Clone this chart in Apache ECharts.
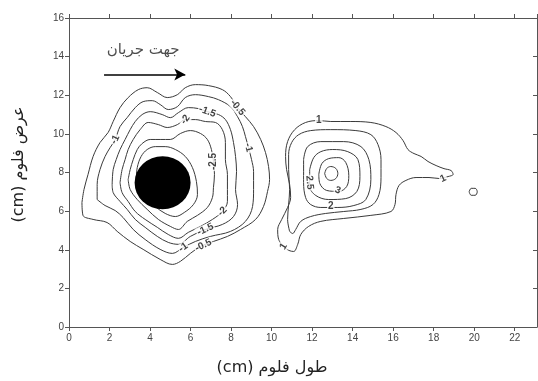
<!DOCTYPE html>
<html>
<head>
<meta charset="utf-8">
<script src="https://cdn.jsdelivr.net/npm/echarts@6/dist/echarts.min.js"></script>
<style>
  html, body { margin: 0; background: #fff; }
  #chart { width: 538px; height: 381px; }
</style>
</head>
<body>
<div id="chart"></div>
<script>
// axis titles (written in visual order so "(cm)" sits on the left like the original)
const xName = '(cm) طول فلوم';
const yName = '(cm) عرض فلوم';
const flowText = 'جهت جریان';

// contour lines, in cm (x = flume length, y = flume width)
// left group: scour around the cylinder (negative levels)
const levelNeg05 = [[0.64,6.45],[0.74,7.12],[0.94,7.90],[1.19,8.83],[1.53,9.55],[1.93,10.07],[2.18,10.64],[2.52,11.36],[2.92,11.88],[3.42,12.29],[3.86,12.39],[4.36,12.14],[4.85,11.88],[5.35,12.03],[5.74,12.39],[6.24,12.55],[6.88,12.50],[7.57,12.29],[7.97,11.93],[8.32,11.36],[8.71,10.89],[9.11,10.38],[9.46,9.71],[9.70,9.03],[9.85,8.31],[9.90,7.64],[9.80,7.02],[9.60,6.24],[9.21,5.57],[8.47,5.05],[7.82,4.69],[7.13,4.43],[6.49,4.17],[5.99,3.81],[5.50,3.40],[5.10,3.24],[4.50,3.50],[3.66,4.02],[3.02,4.43],[2.38,4.95],[1.88,5.41],[1.19,5.57],[0.69,5.78]];
const levelNeg1 = [[1.39,6.60],[1.39,7.38],[1.53,8.15],[1.78,8.83],[2.03,9.29],[2.28,9.71],[2.52,10.38],[2.87,10.84],[3.27,11.36],[3.66,11.67],[4.11,11.72],[4.50,11.52],[4.90,11.26],[5.35,11.41],[5.74,11.88],[6.24,12.03],[6.88,11.93],[7.38,11.77],[7.97,11.41],[8.32,10.89],[8.56,10.38],[8.71,9.86],[8.86,9.29],[9.01,8.67],[9.11,8.05],[9.11,7.12],[9.06,6.24],[8.71,5.47],[7.97,4.95],[6.98,4.69],[6.24,4.43],[5.64,4.12],[5.10,3.81],[4.50,4.02],[3.76,4.53],[3.17,5.05],[2.67,5.67],[2.28,6.03],[1.78,6.29]];
const levelNeg15 = [[2.13,7.38],[2.18,8.15],[2.33,8.67],[2.52,9.19],[2.77,9.71],[3.02,10.22],[3.27,10.64],[3.61,11.00],[4.01,11.15],[4.60,11.00],[5.00,10.84],[5.40,11.10],[5.89,11.36],[6.39,11.31],[6.83,11.15],[7.38,11.00],[7.72,10.74],[7.97,10.22],[8.12,9.55],[8.22,8.83],[8.27,8.05],[8.22,7.12],[8.32,6.34],[8.12,5.72],[7.57,5.31],[6.73,5.05],[5.99,4.69],[5.40,4.28],[4.90,4.38],[4.36,4.69],[3.76,5.16],[3.27,5.57],[2.87,6.09],[2.52,6.50],[2.18,6.96]];
const levelNeg2 = [[2.52,7.48],[2.62,8.15],[2.77,8.67],[2.92,9.19],[3.17,9.71],[3.51,10.22],[3.91,10.59],[4.41,10.48],[4.85,10.33],[5.35,10.48],[5.74,10.74],[6.24,10.74],[6.73,10.64],[7.23,10.59],[7.57,10.22],[7.72,9.55],[7.72,8.67],[7.82,7.90],[7.82,7.12],[7.82,6.50],[7.57,5.98],[7.08,5.57],[6.49,5.21],[5.89,4.90],[5.40,4.59],[4.90,4.79],[4.36,5.16],[3.76,5.57],[3.27,5.98],[2.92,6.50],[2.62,6.96]];
const levelNeg25 = [[2.92,7.64],[3.02,8.15],[3.17,8.67],[3.37,9.19],[3.61,9.50],[4.01,9.71],[4.50,9.71],[5.00,9.71],[5.50,10.02],[5.99,10.17],[6.49,10.02],[6.83,9.71],[7.03,9.19],[7.13,8.57],[7.18,7.90],[7.13,7.22],[7.08,6.71],[6.83,6.19],[6.34,5.78],[5.84,5.47],[5.40,5.05],[5.00,5.21],[4.41,5.57],[3.86,6.09],[3.37,6.60],[3.02,7.12]];
const levelNeg3 = [[3.32,7.64],[3.37,8.26],[3.56,8.83],[3.86,9.19],[4.26,9.34],[4.75,9.34],[5.25,9.19],[5.74,8.83],[6.09,8.26],[6.29,7.53],[6.34,6.86],[6.14,6.34],[5.69,5.93],[5.25,5.72],[4.75,5.88],[4.26,6.24],[3.81,6.71],[3.47,7.12]];

// right group: deposition mound (positive levels)
const levelPos1 = [[10.59,4.17],[10.35,4.53],[10.30,5.05],[10.50,5.57],[10.79,6.19],[10.94,6.71],[10.89,7.38],[10.74,8.15],[10.69,8.83],[10.79,9.60],[11.14,10.22],[11.68,10.59],[12.33,10.69],[12.92,10.64],[13.91,10.64],[14.90,10.59],[15.64,10.38],[16.14,10.07],[16.49,9.65],[16.73,9.19],[17.03,8.98],[17.38,8.83],[17.72,8.57],[18.12,8.36],[18.51,8.20],[18.86,8.10],[18.96,7.90],[18.71,7.79],[18.27,7.69],[17.77,7.74],[17.13,7.74],[16.63,7.59],[16.29,7.33],[16.14,6.86],[16.09,6.34],[15.89,5.98],[14.90,5.78],[13.56,5.62],[12.43,5.47],[11.83,5.21],[11.44,4.79],[11.29,4.28],[11.09,3.91],[10.84,3.97]];
const levelPos15 = [[10.89,4.95],[10.79,5.57],[10.84,6.34],[10.89,7.12],[10.84,8.15],[10.84,8.93],[10.99,9.55],[11.34,9.96],[11.93,10.17],[12.92,10.22],[14.16,10.17],[14.90,9.96],[15.25,9.45],[15.40,8.67],[15.40,7.74],[15.30,6.86],[15.00,6.34],[14.41,6.09],[13.56,5.98],[12.67,5.88],[11.93,5.72],[11.44,5.47],[11.19,5.05],[11.04,4.84]];
const levelPos2 = [[11.58,8.67],[11.78,9.34],[12.43,9.60],[13.56,9.60],[14.41,9.34],[14.80,8.67],[14.90,7.64],[14.65,6.60],[14.06,6.29],[13.27,6.19],[12.43,6.19],[11.93,6.34],[11.68,6.70],[11.58,7.48]];
const levelPos25 = [[11.88,8.15],[12.08,8.77],[12.43,9.08],[13.02,9.19],[13.76,9.08],[14.26,8.67],[14.36,7.79],[14.21,7.02],[13.66,6.65],[12.82,6.60],[12.18,6.81],[11.88,7.28]];
const levelPos3 = [[12.33,7.90],[12.48,8.46],[12.82,8.72],[13.32,8.77],[13.66,8.52],[13.81,7.84],[13.71,7.28],[13.32,7.02],[12.72,7.07],[12.38,7.43]];
const levelPos35 = [[12.62,7.95],[12.72,8.21],[12.92,8.31],[13.17,8.21],[13.27,7.95],[13.17,7.69],[12.92,7.59],[12.72,7.69]];
const levelIsland = [[19.75,7.0],[19.85,7.18],[20.05,7.18],[20.15,7.0],[20.05,6.82],[19.85,6.82]];

const contours = [levelNeg05, levelNeg1, levelNeg15, levelNeg2, levelNeg25, levelNeg3,
  levelPos1, levelPos15, levelPos2, levelPos25, levelPos3, levelPos35, levelIsland];

// contour value labels: [x, y, text]
const contourLabels = [
  [2.28, 9.71, '-1'], [5.74, 10.74, '-2'], [6.83, 11.15, '-1.5'], [8.32, 11.36, '-0.5'],
  [8.86, 9.29, '-1'], [7.13, 8.57, '-2.5'], [7.57, 5.98, '-2'], [6.73, 5.05, '-1.5'],
  [5.64, 4.12, '-1'], [6.63, 4.23, '-0.5'],
  [12.33, 10.69, '1'], [11.88, 7.48, '2.5'], [13.27, 7.07, '3'], [12.92, 6.24, '2'],
  [18.47, 7.69, '1'], [10.59, 4.17, '1']
];
const labelAngles = [65, 55, -20, -50, -75, 90, 45, 25, 35, 25, 0, -85, -20, 0, 25, 60];

// cylinder position and flow-direction arrow (cm)
const pier = [4.62, 7.47];
const arrowFrom = [1.73, 13.07];
const arrowTo = [5.74, 13.07];
const flowTextPos = [3.66, 14.35];

const axisColor = '#555';
const chart = echarts.init(document.getElementById('chart'), null, { renderer: 'canvas' });

const series = contours.map(pts => ({
  type: 'line',
  data: pts.concat([pts[0]]),
  smooth: 0.35,
  symbol: 'none',
  silent: true,
  z: 2,
  lineStyle: { color: '#3a3a3a', width: 1 }
}));

series.push({
  type: 'scatter',
  silent: true,
  z: 4,
  symbolSize: 1,
  itemStyle: { color: 'rgba(0,0,0,0)' },
  data: contourLabels.map((d, i) => ({
    value: [d[0], d[1]],
    label: { formatter: d[2], rotate: labelAngles[i] }
  })),
  label: {
    show: true,
    position: 'inside',
    color: '#111',
    fontSize: 10,
    fontWeight: 'bold',
    fontFamily: 'Liberation Sans, Arial, sans-serif',
    backgroundColor: '#fff',
    padding: [0, 1]
  }
});

series.push({
  type: 'scatter',
  silent: true,
  z: 5,
  data: [pier],
  symbol: 'circle',
  symbolSize: [56, 53],
  itemStyle: { color: '#000', opacity: 1 }
});

series.push({
  type: 'scatter',
  silent: true,
  z: 5,
  data: [flowTextPos],
  symbolSize: 1,
  itemStyle: { color: 'rgba(0,0,0,0)' },
  label: {
    show: true,
    position: 'inside',
    formatter: flowText,
    color: '#222',
    fontSize: 15,
    fontFamily: 'DejaVu Sans, sans-serif'
  },
  markLine: {
    silent: true,
    symbol: ['none', 'arrow'],
    symbolSize: [9, 11],
    label: { show: false },
    lineStyle: { color: '#000', width: 1.5, type: 'solid' },
    data: [[{ coord: arrowFrom }, { coord: arrowTo }]]
  }
});

const baseX = {
  type: 'value', min: 0, max: 23.1, interval: 2,
  splitLine: { show: false },
  axisLine: { show: true, onZero: false, lineStyle: { color: axisColor } }
};
const baseY = {
  type: 'value', min: 0, max: 16, interval: 2,
  splitLine: { show: false },
  axisLine: { show: true, onZero: false, lineStyle: { color: axisColor } }
};
const tickFont = { color: '#444', fontSize: 10, fontFamily: 'Liberation Sans, Arial, sans-serif' };

chart.setOption({
  backgroundColor: '#fff',
  animation: false,
  grid: { left: 69, right: 1, top: 18, bottom: 53 },
  xAxis: [
    Object.assign({}, baseX, {
      position: 'bottom',
      axisTick: { show: true, length: 4, lineStyle: { color: axisColor } },
      axisLabel: Object.assign({ margin: 6, showMaxLabel: false }, tickFont),
      name: xName,
      nameLocation: 'middle',
      nameGap: 33,
      nameTextStyle: { color: '#222', fontSize: 16, fontFamily: 'DejaVu Sans, sans-serif', padding: [0, 62, 0, 0] }
    }),
    Object.assign({}, baseX, {
      position: 'top',
      axisTick: { show: true, length: 4, lineStyle: { color: axisColor } },
      axisLabel: { show: false }
    })
  ],
  yAxis: [
    Object.assign({}, baseY, {
      position: 'left',
      axisTick: { show: true, length: 4, lineStyle: { color: axisColor } },
      axisLabel: Object.assign({ margin: 5 }, tickFont),
      name: yName,
      nameLocation: 'middle',
      nameGap: 42,
      nameRotate: 90,
      nameTextStyle: { color: '#222', fontSize: 16, fontFamily: 'DejaVu Sans, sans-serif', padding: [0, 0, 0, 16] }
    }),
    Object.assign({}, baseY, {
      position: 'right',
      axisTick: { show: true, inside: true, length: 4, lineStyle: { color: axisColor } },
      axisLabel: { show: false }
    })
  ],
  series: series
});
</script>
</body>
</html>
